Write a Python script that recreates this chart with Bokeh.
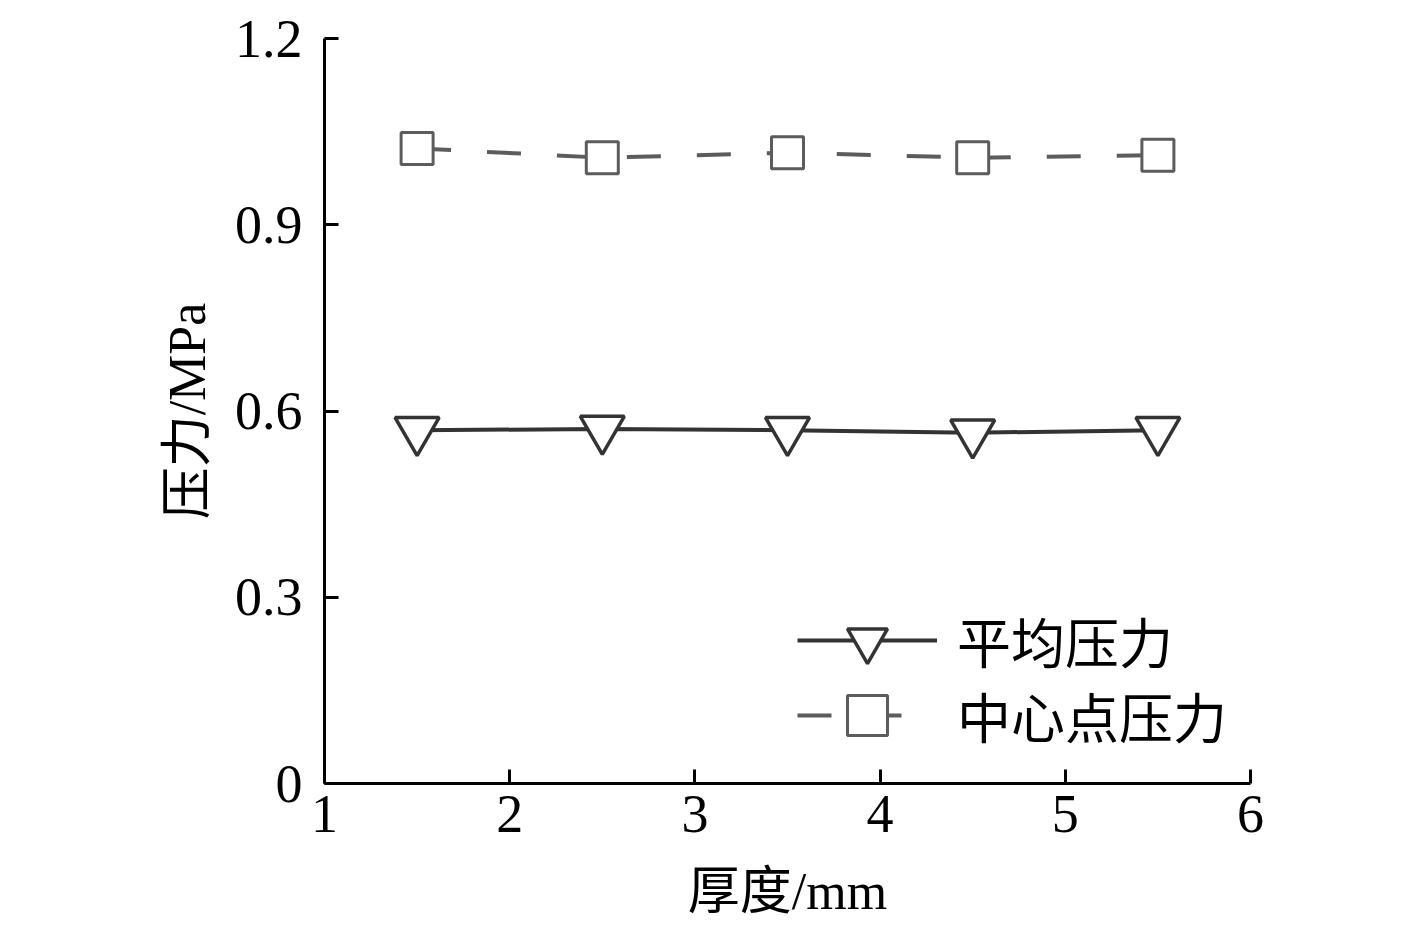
from bokeh.plotting import figure
from bokeh.models import Range1d, Legend, LegendItem, FixedTicker
from bokeh.embed import file_html
from bokeh.resources import INLINE

thickness = [1.5, 2.5, 3.5, 4.5, 5.5]
avg_pressure = [0.569, 0.571, 0.569, 0.565, 0.569]
center_pressure = [1.023, 1.008, 1.016, 1.008, 1.012]
x_ticks = [1, 2, 3, 4, 5, 6]
y_ticks = [0, 0.3, 0.6, 0.9, 1.2]
series_names = ["平均压力", "中心点压力"]

SERIF = "Liberation Serif"
MIXED = "'Liberation Serif', 'Noto Sans CJK SC'"

p = figure(width=1400, height=930, output_backend="svg", toolbar_location=None,
           x_range=Range1d(1, 6), y_range=Range1d(0, 1.2),
           min_border_left=324, min_border_right=150, min_border_top=38, min_border_bottom=147)
p.outline_line_color = None
p.xgrid.visible = False
p.ygrid.visible = False
p.background_fill_color = "white"
p.border_fill_color = "white"

for ax in (p.xaxis[0], p.yaxis[0]):
    ax.axis_line_width = 3
    ax.axis_line_color = "black"
    ax.major_tick_line_width = 3
    ax.major_tick_line_color = "black"
    ax.major_tick_in = 14
    ax.major_tick_out = 0
    ax.minor_tick_line_color = None
    ax.major_label_text_font = SERIF
    ax.major_label_text_font_size = "54px"
    ax.major_label_text_color = "black"
    ax.axis_label_text_font = MIXED
    ax.axis_label_text_font_size = "52px"
    ax.axis_label_text_font_style = "normal"
    ax.axis_label_text_color = "black"

p.xaxis[0].ticker = FixedTicker(ticks=x_ticks)
p.yaxis[0].ticker = FixedTicker(ticks=y_ticks)
p.xaxis[0].major_label_overrides = {t: str(t) for t in x_ticks}
p.yaxis[0].major_label_overrides = {0: "0", 0.3: "0.3", 0.6: "0.6", 0.9: "0.9", 1.2: "1.2"}
p.xaxis[0].axis_label = "厚度/mm"
p.yaxis[0].axis_label = "压力/MPa"
p.xaxis[0].major_label_standoff = 12
p.yaxis[0].major_label_standoff = 22
p.xaxis[0].axis_label_standoff = 28
p.yaxis[0].axis_label_standoff = 16

l1 = p.line(thickness, avg_pressure, line_color="#333333", line_width=4)
m1 = p.scatter(thickness, avg_pressure, marker="inverted_triangle", size=44,
               fill_color="white", line_color="#333333", line_width=3.5)
l2 = p.line(thickness, center_pressure, line_color="#5c5c5c", line_width=4, line_dash="34 36")
m2 = p.scatter(thickness, center_pressure, marker="square", size=32,
               fill_color="white", line_color="#5c5c5c", line_width=3)

def make_legend(label, renderers, loc):
    return Legend(items=[LegendItem(label=label, renderers=renderers)],
                  location=loc, glyph_width=140, glyph_height=100,
                  label_standoff=20, spacing=0, padding=0, margin=0,
                  background_fill_alpha=0, border_line_color=None,
                  label_text_font=MIXED, label_text_font_size="54px",
                  label_text_color="black")

p.add_layout(make_legend(series_names[0], [l1, m1], (473, 93)))
p.add_layout(make_legend(series_names[1], [l2, m2], (473, 18)))

open("out.html", "w").write(file_html(p, INLINE))
